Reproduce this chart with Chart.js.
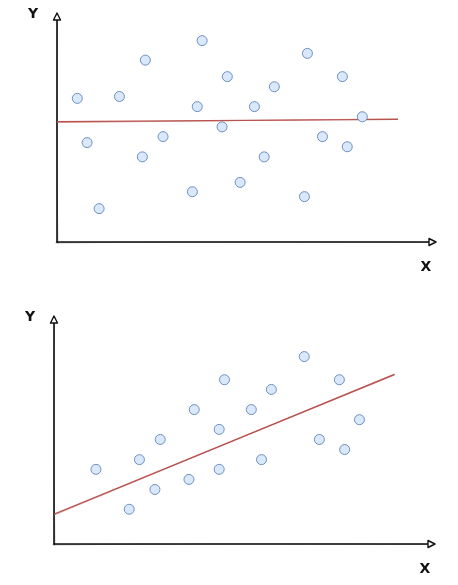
<!DOCTYPE html>
<html>
<head>
<meta charset="utf-8">
<script src="https://cdn.jsdelivr.net/npm/chart.js@4"></script>
<style>
  html, body { margin: 0; padding: 0; background: #fff; }
  body { width: 458px; height: 585px; position: relative; overflow: hidden; }
  canvas { position: absolute; left: 0; }
  #topChart { top: 0; }
  #bottomChart { top: 290px; }
</style>
</head>
<body>
<canvas id="topChart" width="458" height="290"></canvas>
<canvas id="bottomChart" width="458" height="295"></canvas>
<script>
// no correlation: scattered points, flat fit line
const topX = [5.4, 8.0, 11.2, 16.6, 23.5, 22.7, 28.2, 36.0, 37.3, 38.6, 43.9, 45.3, 48.7, 52.5, 55.1, 57.8, 65.8, 66.6, 70.6, 75.9, 77.2, 81.2];
const topY = [38.3, 26.5, 8.9, 38.8, 48.5, 22.7, 28.1, 13.4, 36.1, 53.7, 30.7, 44.1, 15.9, 36.1, 22.7, 41.4, 12.1, 50.3, 28.1, 44.1, 25.4, 33.4];
const topFitX = [0, 90.7];
const topFitY = [32.1, 32.7];

// positive correlation
const bottomX = [11.1, 19.9, 22.6, 26.7, 28.1, 35.7, 37.1, 43.7, 43.7, 45.1, 52.2, 54.9, 57.5, 66.2, 70.2, 75.5, 76.9, 80.8];
const bottomY = [20.0, 9.3, 22.6, 14.6, 28.0, 17.3, 36.0, 20.0, 30.7, 44.0, 36.0, 22.6, 41.4, 50.2, 28.0, 44.0, 25.3, 33.3];
const bottomFitX = [0, 90.1];
const bottomFitY = [8.0, 45.4];

const axisLabels = ['X', 'Y'];

function pts(xs, ys) {
  return xs.map((x, i) => ({ x: x, y: ys[i] }));
}

// hand drawn looking axes with open arrow heads
const sketchAxes = {
  id: 'sketchAxes',
  beforeDatasetsDraw(chart) {
    const ctx = chart.ctx;
    const a = chart.chartArea;
    ctx.save();
    ctx.strokeStyle = '#111';
    ctx.lineCap = 'round';
    // y axis
    ctx.lineWidth = 1.6;
    ctx.beginPath();
    ctx.moveTo(a.left, a.bottom);
    ctx.lineTo(a.left, a.top - 2);
    ctx.stroke();
    ctx.globalAlpha = 0.45;
    ctx.lineWidth = 1;
    ctx.beginPath();
    ctx.moveTo(a.left + 0.8, a.bottom + 1);
    ctx.quadraticCurveTo(a.left - 0.6, (a.top + a.bottom) / 2, a.left + 0.4, a.top + 4);
    ctx.stroke();
    // x axis
    ctx.globalAlpha = 1;
    ctx.lineWidth = 1.6;
    ctx.beginPath();
    ctx.moveTo(a.left, a.bottom);
    ctx.lineTo(a.right - 3, a.bottom);
    ctx.stroke();
    ctx.globalAlpha = 0.45;
    ctx.lineWidth = 1;
    ctx.beginPath();
    ctx.moveTo(a.left - 1, a.bottom + 0.8);
    ctx.quadraticCurveTo((a.left + a.right) / 2, a.bottom - 0.7, a.right - 4, a.bottom + 0.3);
    ctx.stroke();
    ctx.globalAlpha = 1;
    // arrow heads
    ctx.lineWidth = 1.4;
    ctx.lineJoin = 'round';
    ctx.fillStyle = '#fff';
    ctx.beginPath();
    ctx.moveTo(a.left, a.top - 4);
    ctx.lineTo(a.left - 3.5, a.top + 3);
    ctx.lineTo(a.left + 3.5, a.top + 3);
    ctx.closePath();
    ctx.fill();
    ctx.stroke();
    ctx.beginPath();
    ctx.moveTo(a.right + 3, a.bottom);
    ctx.lineTo(a.right - 4, a.bottom - 3.5);
    ctx.lineTo(a.right - 4, a.bottom + 3.5);
    ctx.closePath();
    ctx.fill();
    ctx.stroke();
    // labels
    ctx.fillStyle = '#111';
    ctx.font = 'bold 14px "DejaVu Sans", sans-serif';
    ctx.textAlign = 'center';
    ctx.textBaseline = 'middle';
    ctx.fillText(axisLabels[1], a.left - 24, a.top - 3);
    ctx.fillText(axisLabels[0], a.right - 7, a.bottom + 25);
    ctx.restore();
  }
};

function makeChart(id, xs, ys, fitX, fitY, padding) {
  const fit = pts(fitX, fitY);
  return new Chart(document.getElementById(id), {
    type: 'scatter',
    data: {
      datasets: [{
        label: 'fit',
        data: fit,
        showLine: true,
        borderColor: '#b85450',
        borderWidth: 1.4,
        pointRadius: 0,
        order: 2
      }, {
        label: 'fit sketch',
        data: fit.map((p, i) => ({ x: p.x, y: p.y + (i === 0 ? -0.25 : 0.15) })),
        showLine: true,
        borderColor: 'rgba(184, 84, 80, 0.55)',
        borderWidth: 1,
        pointRadius: 0,
        order: 3
      }, {
        label: 'data',
        data: pts(xs, ys),
        pointRadius: 5,
        pointBackgroundColor: '#dae8fc',
        pointBorderColor: '#6c8ebf',
        pointBorderWidth: 1,
        order: 1
      }]
    },
    options: {
      responsive: false,
      animation: false,
      layout: { padding: padding },
      scales: {
        x: { display: false, min: 0, max: 100 },
        y: { display: false, min: 0, max: 60 }
      },
      plugins: {
        legend: { display: false },
        tooltip: { enabled: false }
      }
    },
    plugins: [sketchAxes]
  });
}

makeChart('topChart', topX, topY, topFitX, topFitY, { left: 57, top: 17, right: 25, bottom: 48 });
makeChart('bottomChart', bottomX, bottomY, bottomFitX, bottomFitY, { left: 54, top: 30, right: 26, bottom: 41 });
</script>
</body>
</html>
